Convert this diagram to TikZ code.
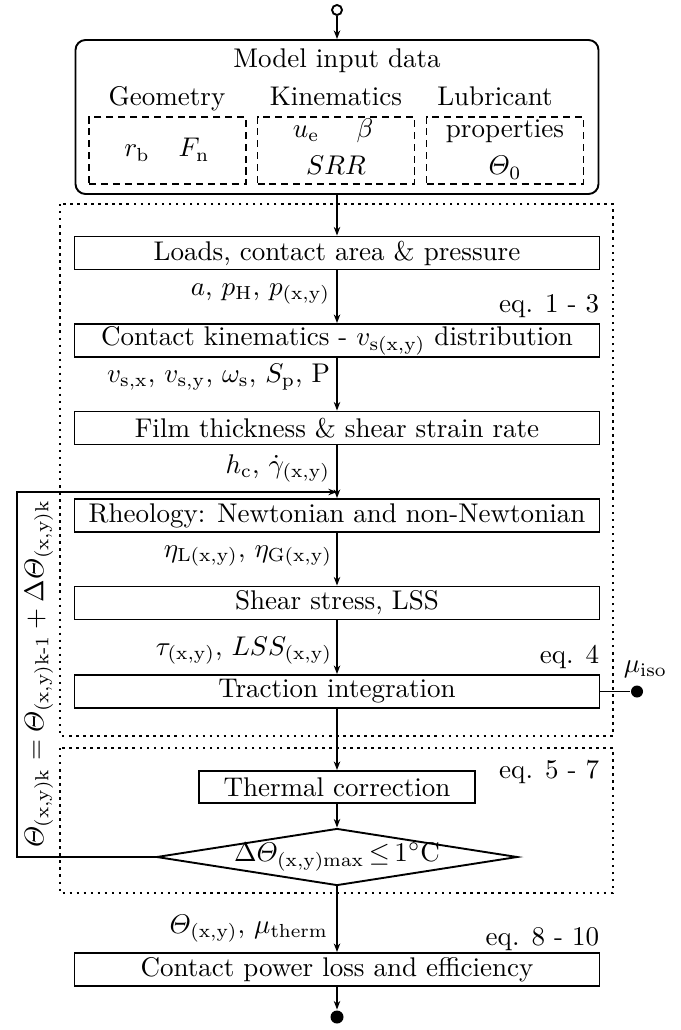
\documentclass[tikz,border=0pt]{standalone}
\usepackage{amsmath}
\usetikzlibrary{arrows.meta,shapes.geometric}
\newcommand\pxu{0.37pt}
\begin{document}
\begin{tikzpicture}[x=0.37pt,y=-0.37pt,
  line width=0.7pt,
  arr/.style={-{Stealth[length=3.2pt,width=2.4pt]}},
  stepbox/.style={draw, minimum width=525*\pxu, minimum height=33*\pxu, inner sep=0pt},
  lbl/.style={anchor=base east, inner sep=0pt},
  txt/.style={anchor=base, inner sep=0pt},
  dashbox/.style={draw, dash pattern=on 2.6pt off 1.8pt, line width=0.5pt, minimum width=157*\pxu, minimum height=67*\pxu, inner sep=0pt},
  dotframe/.style={dash pattern=on 0.9pt off 1.7pt, line width=0.75pt},
  enddot/.style={circle, fill, inner sep=0pt}]
\useasboundingbox (0,0) rectangle (680,1030);

% input block
\node[circle, draw, inner sep=0pt, minimum size=10*\pxu] (start) at (337,10) {};
\node[draw, rounded corners=3.7pt, minimum width=523*\pxu, minimum height=154*\pxu, inner sep=0pt] (input) at (337,117) {};
\node[txt] (title) at (337,68) {Model input data};
\node[txt] (geo) at (167,106) {Geometry};
\node[txt] (kinh) at (336,106) {Kinematics};
\node[txt] (lub) at (495,106) {Lubricant};
\node[dashbox] (gbox) at (167.5,150.5) {};
\node[dashbox] (kbox) at (336,150.5) {};
\node[dashbox] (lbox) at (505,150.5) {};
\node[txt] (rb) at (137,157) {$r_{\mathrm{b}}$};
\node[txt] (fn) at (194,157) {$F_{\mathrm{n}}$};
\node[txt] (ue) at (306,137) {$u_{\mathrm{e}}$};
\node[txt] (beta) at (365,137) {$\beta$};
\node[txt] (srr) at (336,175) {$SRR$};
\node[txt] (prop) at (505,137) {properties};
\node[txt] (th0) at (505,175) {$\varTheta_0$};

% dotted frames
\draw[dotframe] (60,204) rectangle (613,736);
\draw[dotframe] (60,748) rectangle (613,893);

% main steps
\node[stepbox] (loads) at (337,253) {Loads, contact area \& pressure};
\node[stepbox] (kin) at (337,340.5) {Contact kinematics - $v_{\mathrm{s(x,y)}}$ distribution};
\node[stepbox] (film) at (337,428) {Film thickness \& shear strain rate};
\node[stepbox] (rheo) at (337,515.5) {Rheology: Newtonian and non-Newtonian};
\node[stepbox] (shear) at (337,603) {Shear stress, LSS};
\node[stepbox] (trac) at (337,691.5) {Traction integration};
\node[draw, minimum width=276*\pxu, minimum height=32*\pxu, inner sep=0pt] (therm) at (337,787) {Thermal correction};
\node[draw, diamond, minimum width=361*\pxu, minimum height=57*\pxu, inner sep=0pt] (dec) at (337,857) {};
\node[inner sep=0pt] (dectext) at (337,857) {$\Delta\varTheta_{\mathrm{(x,y)max}}\,{\leq}\,1^{\circ}$C};
\node[stepbox] (final) at (337,969.5) {Contact power loss and efficiency};
\node[enddot, minimum size=13*\pxu] (stop) at (337,1017) {};
\node[enddot, minimum size=12*\pxu] (mu) at (637,691.5) {};

% connectors
\draw[arr] (start) -- (input);
\draw[arr] (input) -- (loads);
\draw[arr] (loads) -- (kin);
\draw[arr] (kin) -- (film);
\draw[arr] (film) -- (rheo);
\draw[arr] (rheo) -- (shear);
\draw[arr] (shear) -- (trac);
\draw[arr] (trac) -- (therm);
\draw[arr] (therm) -- (dec);
\draw[arr] (dec) -- (final);
\draw[arr] (final) -- (stop);
\draw (trac) -- (mu);
\coordinate (fbin) at (337,492);
\coordinate (fbcorner) at (17,857);
\draw[arr] (dec.west) -- (fbcorner) |- (fbin);

% labels
\node[lbl] at (331,295) {$a$, $p_{\mathrm{H}}$, $p_{\mathrm{(x,y)}}$};
\node[lbl] at (331,382) {$v_{\mathrm{s,x}}$, $v_{\mathrm{s,y}}$, $\omega_{\mathrm{s}}$, $S_{\mathrm{p}}$, P};
\node[lbl] at (331,473) {$h_{\mathrm{c}}$, $\dot{\gamma}_{\mathrm{(x,y)}}$};
\node[lbl] at (333,557) {$\eta_{\mathrm{L(x,y)}}$, $\eta_{\mathrm{G(x,y)}}$};
\node[lbl] at (333,655) {$\tau_{\mathrm{(x,y)}}$, $LSS_{\mathrm{(x,y)}}$};
\node[lbl] at (329,933) {$\varTheta_{\mathrm{(x,y)}}$, $\mu_{\mathrm{therm}}$};
\node[lbl] at (600,312) {eq. 1 - 3};
\node[lbl] at (600,663) {eq. 4};
\node[lbl] at (600,778) {eq. 5 - 7};
\node[lbl] at (600,945) {eq. 8 - 10};
\node[anchor=base west, inner sep=0pt] at (623,672) {$\mu_{\mathrm{iso}}$};
\node[rotate=90, inner sep=0pt] (fblabel) at (39,674) {$\varTheta_{\mathrm{(x,y)k}} = \varTheta_{\mathrm{(x,y)k\text{-}1}} + \Delta\varTheta_{\mathrm{(x,y)k}}$};
\end{tikzpicture}
\end{document}
